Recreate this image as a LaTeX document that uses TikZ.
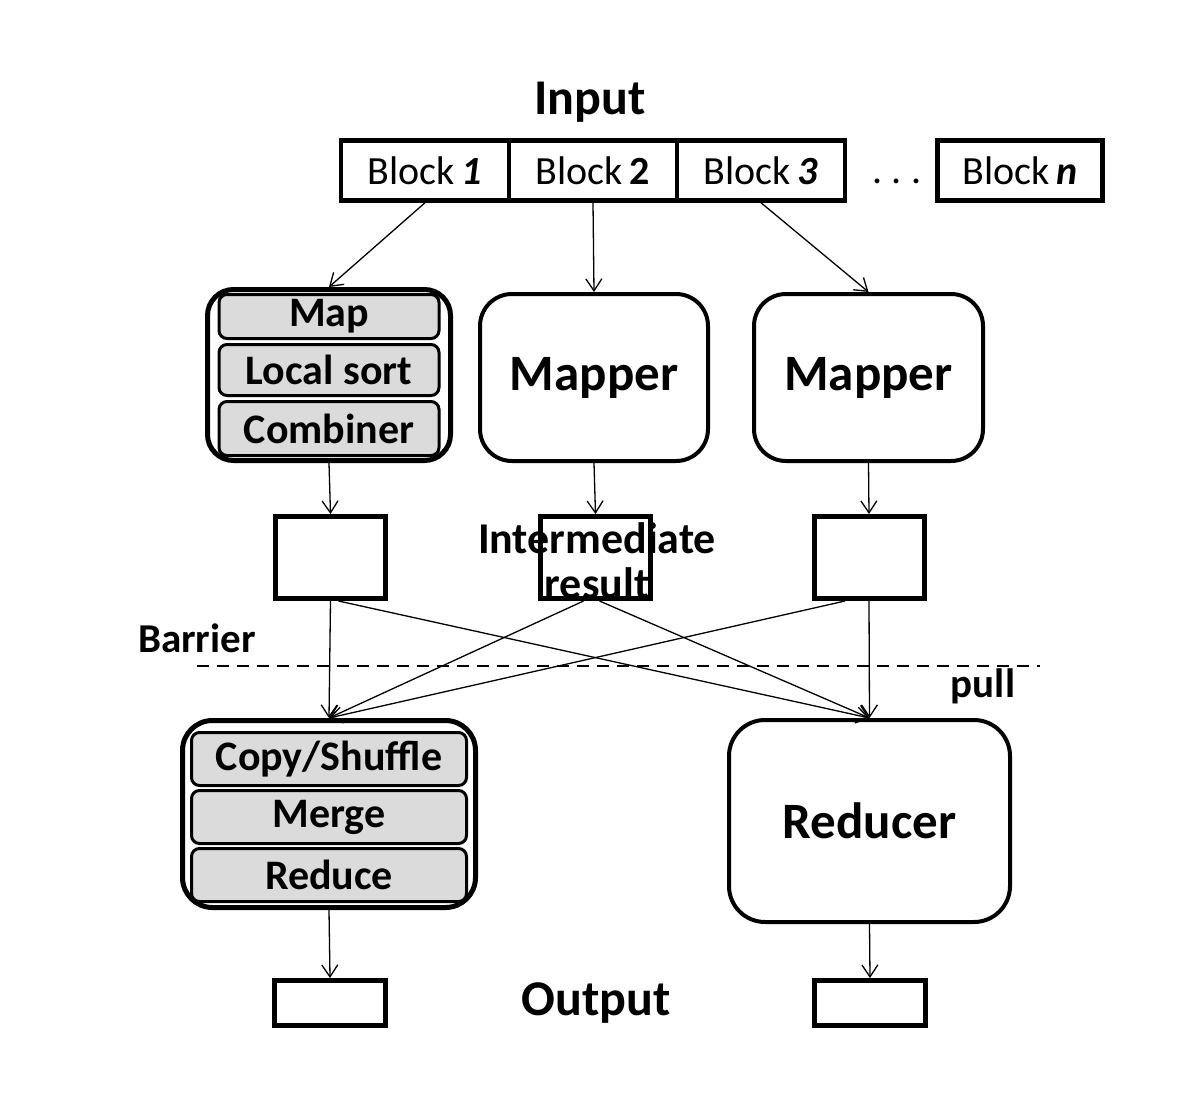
\documentclass[tikz,border=0pt]{standalone}
\usepackage{fontspec}
\setmainfont{Carlito}
\usetikzlibrary{arrows.meta,positioning}

\tikzset{
  blockbox/.style={draw,line width=4.5pt,minimum width=168pt,minimum height=60pt,inner sep=0pt,
    font=\fontsize{40}{44}\selectfont},
  group/.style={draw,line width=5pt,rounded corners=26pt,inner sep=0pt},
  stage/.style={draw,line width=3pt,fill=gray!28,rounded corners=8pt,inner sep=0pt,
    minimum height=50pt,font=\bfseries\fontsize{42}{46}\selectfont},
  worker/.style={draw,line width=4pt,rounded corners=32pt,inner sep=0pt,
    font=\bfseries\fontsize{51}{56}\selectfont},
  store/.style={draw,line width=5pt,inner sep=0pt},
  label/.style={font=\bfseries\fontsize{41}{46}\selectfont,inner sep=0pt},
  flow/.style={line width=1.3pt,-{Straight Barb[length=12pt,width=16pt,line width=1.3pt]}}
}

\begin{document}
\begin{tikzpicture}[x=1pt,y=-1pt]
\useasboundingbox (0,0) rectangle (1189,1100);

% input blocks
\node[label,font=\bfseries\fontsize{50}{54}\selectfont] (input) at (590,102) {Input};
\node[blockbox] (b1) at (425,170.5) {Block\,\textbf{\textit{1}}};
\node[blockbox] (b2) at (593,170.5) {Block\,\textbf{2}};
\node[blockbox] (b3) at (761,170.5) {Block\,\textbf{\textit{3}}};
\node[anchor=base,font=\fontsize{40}{44}\selectfont] (dots) at (897,183) {.\hspace{9pt}.\hspace{9pt}.};
\node[blockbox,minimum width=165pt] (bn) at (1020,170.5) {Block\,\textbf{\textit{n}}};

% map side
\node[group,minimum width=243pt,minimum height=171pt] (mg) at (329,375) {};
\node[stage,minimum width=220pt,minimum height=44pt] (map) at (329,316.5) {Map};
\node[stage,minimum width=220pt,minimum height=51pt,below=3pt of map] (sort) {Local sort};
\node[stage,minimum width=220pt,minimum height=54pt,below=3pt of sort] (comb) {Combiner};
\node[worker,minimum width=228pt,minimum height=167pt] (mp1) at (594,377.5) {Mapper};
\node[worker,minimum width=229pt,minimum height=167pt] (mp2) at (868.5,377.5) {Mapper};

% intermediate results
\node[store,minimum width=110pt,minimum height=82pt] (i1) at (330.5,557.5) {};
\node[store,minimum width=110pt,minimum height=82pt] (i2) at (595.5,557.5) {};
\node[store,minimum width=110pt,minimum height=82pt] (i3) at (869,557.5) {};
\node[label,align=center,font=\bfseries\fontsize{44}{45}\selectfont] (inter) at (597,561) {Intermediate\\result};

% barrier
\node[label] (barrier) at (197,638) {Barrier};
\node[label] (pull) at (983,686) {pull};
\coordinate (bl) at (197,666);
\coordinate (br) at (1040,666);
\draw[line width=1.5pt,dash pattern=on 12pt off 8pt] (bl) -- (br);

% reduce side
\node[group,rounded corners=30pt,minimum width=293pt,minimum height=187pt] (rg) at (329,814) {};
\node[stage,minimum width=275pt,minimum height=53pt] (copy) at (329,759) {Copy/Shuffle};
\node[stage,minimum width=275pt,minimum height=53pt,below=2pt of copy] (merge) {Merge};
\node[stage,minimum width=275pt,minimum height=53pt,below=2pt of merge] (red) {Reduce};
\node[worker,rounded corners=36pt,minimum width=281pt,minimum height=202pt] (rd) at (869.5,821) {Reducer};

% output
\node[store,minimum width=111pt,minimum height=45pt] (o1) at (330,1003) {};
\node[store,minimum width=111pt,minimum height=45pt] (o2) at (870,1003) {};
\node[label,font=\bfseries\fontsize{50}{54}\selectfont] (output) at (596,1003) {Output};

% arrows
\draw[flow] (b1.south) -- (mg.north);
\draw[flow] (b2.south) -- (mp1.north);
\draw[flow] (b3.south) -- (mp2.north);
\draw[flow] (mg.south) -- (i1.north);
\draw[flow] (mp1.south) -- (i2.north);
\draw[flow] (mp2.south) -- (i3.north);
\draw[flow] (i1.south) -- (rg.north);
\draw[flow] ([xshift=8pt]i1.south) -- (rd.north);
\draw[flow] ([xshift=-12pt]i2.south) -- (rg.north);
\draw[flow] ([xshift=4pt]i2.south) -- (rd.north);
\draw[flow] ([xshift=-24pt]i3.south) -- (rg.north);
\draw[flow] (i3.south) -- (rd.north);
\draw[flow] (rg.south) -- (o1.north);
\draw[flow] (rd.south) -- (o2.north);
\end{tikzpicture}
\end{document}
